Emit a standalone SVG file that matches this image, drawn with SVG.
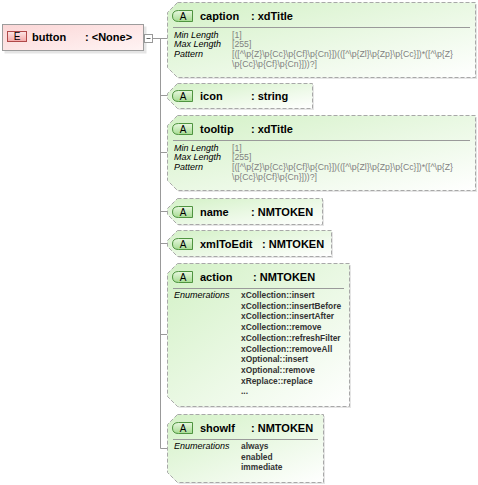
<svg xmlns="http://www.w3.org/2000/svg" width="478" height="485" viewBox="0 0 478 485">
<defs>
<linearGradient id="gAttr" x1="0" y1="0" x2="1" y2="1">
<stop offset="0" stop-color="#d3f1c6"/>
<stop offset="1" stop-color="#ffffff"/>
</linearGradient>
<linearGradient id="gElem" x1="0" y1="0" x2="1" y2="1">
<stop offset="0" stop-color="#fbd6d6"/>
<stop offset="1" stop-color="#fff4f4"/>
</linearGradient>
<linearGradient id="gBadgeA" x1="0" y1="0" x2="0" y2="1">
<stop offset="0" stop-color="#e8f8e0"/>
<stop offset="1" stop-color="#a6dc92"/>
</linearGradient>
<linearGradient id="gBadgeE" x1="0" y1="0" x2="0" y2="1">
<stop offset="0" stop-color="#fde6e6"/>
<stop offset="1" stop-color="#f4a8a8"/>
</linearGradient>
</defs>
<style>
.t{font-family:"Liberation Sans",Arial,sans-serif;font-size:11px;font-weight:bold;fill:#000}
.lbl{font-family:"Liberation Sans",Arial,sans-serif;font-size:9px;font-style:italic;fill:#000}
.val{font-family:"Liberation Sans",Arial,sans-serif;font-size:8.7px;fill:#808080}
.enum{font-family:"Liberation Sans",Arial,sans-serif;font-size:8.4px;font-weight:bold;fill:#333}
.badge{font-family:"Liberation Sans",Arial,sans-serif;font-size:10px;fill:#000;text-anchor:middle}
.box{fill:url(#gAttr);stroke:#a8a8a8;stroke-width:1;stroke-dasharray:4,2}
.shadow{fill:#000;opacity:0.1}
.sep{stroke:#9a9a9a;stroke-width:1}
.ba{fill:url(#gBadgeA);stroke:#4f9440;stroke-width:1}
.conn{stroke:#999;stroke-width:1;fill:none}
</style>

<g id="connectors">
<path class="conn" d="M152.5,38.5 H167"/>
<path class="conn" d="M160.5,38.5 V448.5"/>
<path class="conn" d="M160.5,95.5 H167"/>
<path class="conn" d="M160.5,152.5 H167"/>
<path class="conn" d="M160.5,211.5 H167"/>
<path class="conn" d="M160.5,243.5 H167"/>
<path class="conn" d="M160.5,334.5 H167"/>
<path class="conn" d="M160.5,448.5 H167"/>
</g>

<g id="button">
<rect x="4.5" y="26.5" width="142" height="27" class="shadow"/>
<rect x="2.5" y="24.5" width="141" height="26" fill="url(#gElem)" stroke="#9c9c9c"/>
<rect x="7.5" y="31.5" width="19" height="10" fill="url(#gBadgeE)" stroke="#b04848"/>
<text x="17" y="40" class="badge">E</text>
<text x="32" y="41" class="t">button</text>
<text x="85" y="41" class="t">: &lt;None&gt;</text>
<rect x="144.5" y="34.5" width="8" height="8" fill="#fff" stroke="#999"/>
<path d="M146.5,38.5 H150.5" stroke="#666"/>
</g>

<g id="caption" transform="translate(167,2)">
<polygon class="shadow" points="12,2 310,2 310,77 12,77 2,67 2,12"/>
<polygon class="box" points="10.5,0.5 308.5,0.5 308.5,75.5 10.5,75.5 0.5,65.5 0.5,10.5"/>
<path class="ba" d="M11.5,8.5 H25.5 V19.5 H11.5 Q5.5,19.5 5.5,14 Q5.5,8.5 11.5,8.5 Z"/>
<text x="16" y="18" class="badge">A</text>
<text x="33" y="18" class="t">caption</text>
<text x="84" y="18" class="t">: xdTitle</text>
<path class="sep" d="M6,25.5 H303"/>
<text x="7" y="36" class="lbl">Min Length</text>
<text x="65" y="36" class="val">[1]</text>
<text x="7" y="45" class="lbl">Max Length</text>
<text x="65" y="45" class="val">[255]</text>
<text x="7" y="55" class="lbl">Pattern</text>
<text x="65" y="55" class="val">[([^\p{Z}\p{Cc}\p{Cf}\p{Cn}])(([^\p{Zl}\p{Zp}\p{Cc}])*([^\p{Z}</text>
<text x="65" y="65" class="val">\p{Cc}\p{Cf}\p{Cn}]))?]</text>
</g>

<g id="icon" transform="translate(167,83)">
<polygon class="shadow" points="12,2 147,2 147,27 12,27 2,17 2,12"/>
<polygon class="box" points="10.5,0.5 145.5,0.5 145.5,25.5 10.5,25.5 0.5,15.5 0.5,10.5"/>
<path class="ba" d="M11.5,7.5 H25.5 V18.5 H11.5 Q5.5,18.5 5.5,13 Q5.5,7.5 11.5,7.5 Z"/>
<text x="16" y="17" class="badge">A</text>
<text x="33" y="17" class="t">icon</text>
<text x="84" y="17" class="t">: string</text>
</g>

<g id="tooltip" transform="translate(167,115)">
<polygon class="shadow" points="12,2 310,2 310,77 12,77 2,67 2,12"/>
<polygon class="box" points="10.5,0.5 308.5,0.5 308.5,75.5 10.5,75.5 0.5,65.5 0.5,10.5"/>
<path class="ba" d="M11.5,8.5 H25.5 V19.5 H11.5 Q5.5,19.5 5.5,14 Q5.5,8.5 11.5,8.5 Z"/>
<text x="16" y="18" class="badge">A</text>
<text x="33" y="18" class="t">tooltip</text>
<text x="84" y="18" class="t">: xdTitle</text>
<path class="sep" d="M6,25.5 H303"/>
<text x="7" y="36" class="lbl">Min Length</text>
<text x="65" y="36" class="val">[1]</text>
<text x="7" y="45" class="lbl">Max Length</text>
<text x="65" y="45" class="val">[255]</text>
<text x="7" y="55" class="lbl">Pattern</text>
<text x="65" y="55" class="val">[([^\p{Z}\p{Cc}\p{Cf}\p{Cn}])(([^\p{Zl}\p{Zp}\p{Cc}])*([^\p{Z}</text>
<text x="65" y="65" class="val">\p{Cc}\p{Cf}\p{Cn}]))?]</text>
</g>

<g id="name" transform="translate(167,198)">
<polygon class="shadow" points="12,2 157,2 157,28 12,28 2,18 2,12"/>
<polygon class="box" points="10.5,0.5 155.5,0.5 155.5,26.5 10.5,26.5 0.5,16.5 0.5,10.5"/>
<path class="ba" d="M11.5,8.5 H25.5 V19.5 H11.5 Q5.5,19.5 5.5,14 Q5.5,8.5 11.5,8.5 Z"/>
<text x="16" y="18" class="badge">A</text>
<text x="33" y="18" class="t">name</text>
<text x="84" y="18" class="t">: NMTOKEN</text>
</g>

<g id="xmlToEdit" transform="translate(167,230)">
<polygon class="shadow" points="12,2 166,2 166,28 12,28 2,18 2,12"/>
<polygon class="box" points="10.5,0.5 164.5,0.5 164.5,26.5 10.5,26.5 0.5,16.5 0.5,10.5"/>
<path class="ba" d="M11.5,8.5 H25.5 V19.5 H11.5 Q5.5,19.5 5.5,14 Q5.5,8.5 11.5,8.5 Z"/>
<text x="16" y="18" class="badge">A</text>
<text x="33" y="18" class="t">xmlToEdit</text>
<text x="95" y="18" class="t">: NMTOKEN</text>
</g>

<g id="action" transform="translate(167,263)">
<polygon class="shadow" points="12,2 184,2 184,145 12,145 2,135 2,12"/>
<polygon class="box" points="10.5,0.5 182.5,0.5 182.5,143.5 10.5,143.5 0.5,133.5 0.5,10.5"/>
<path class="ba" d="M11.5,8.5 H25.5 V19.5 H11.5 Q5.5,19.5 5.5,14 Q5.5,8.5 11.5,8.5 Z"/>
<text x="16" y="18" class="badge">A</text>
<text x="33" y="18" class="t">action</text>
<text x="86" y="18" class="t">: NMTOKEN</text>
<path class="sep" d="M6,25.5 H177"/>
<text x="7" y="35" class="lbl">Enumerations</text>
<text x="74" y="35" class="enum">xCollection::insert</text>
<text x="74" y="45.7" class="enum">xCollection::insertBefore</text>
<text x="74" y="56.4" class="enum">xCollection::insertAfter</text>
<text x="74" y="67.1" class="enum">xCollection::remove</text>
<text x="74" y="77.8" class="enum">xCollection::refreshFilter</text>
<text x="74" y="88.5" class="enum">xCollection::removeAll</text>
<text x="74" y="99.2" class="enum">xOptional::insert</text>
<text x="74" y="109.9" class="enum">xOptional::remove</text>
<text x="74" y="120.6" class="enum">xReplace::replace</text>
<text x="74" y="131.3" class="enum">...</text>
</g>

<g id="showIf" transform="translate(167,414)">
<polygon class="shadow" points="12,2 158,2 158,70 12,70 2,60 2,12"/>
<polygon class="box" points="10.5,0.5 156.5,0.5 156.5,68.5 10.5,68.5 0.5,58.5 0.5,10.5"/>
<path class="ba" d="M11.5,8.5 H25.5 V19.5 H11.5 Q5.5,19.5 5.5,14 Q5.5,8.5 11.5,8.5 Z"/>
<text x="16" y="18" class="badge">A</text>
<text x="33" y="18" class="t">showIf</text>
<text x="84" y="18" class="t">: NMTOKEN</text>
<path class="sep" d="M6,25.5 H151"/>
<text x="7" y="35" class="lbl">Enumerations</text>
<text x="74" y="35" class="enum">always</text>
<text x="74" y="45.7" class="enum">enabled</text>
<text x="74" y="56.4" class="enum">immediate</text>
</g>
</svg>
